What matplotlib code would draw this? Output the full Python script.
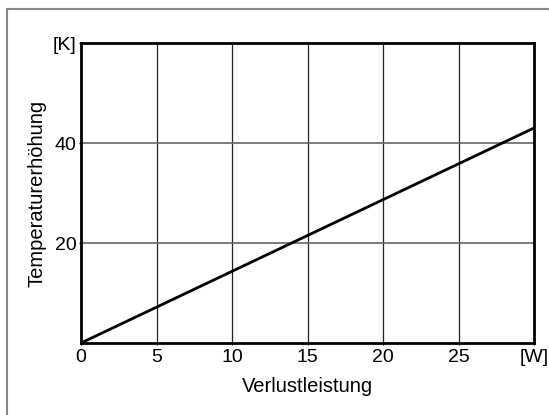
import matplotlib
matplotlib.use("Agg")
import matplotlib.pyplot as plt
from matplotlib.patches import Rectangle

plt.rcParams['font.family'] = ['Liberation Sans', 'DejaVu Sans']

power = [0, 30]
temp = [0, 43]
xticks = [0, 5, 10, 15, 20, 25, 30]
xticklabels = ['0', '5', '10', '15', '20', '25', '[W]']
yticks = [20, 40, 60]
yticklabels = ['20', '40', '[K]']

fig = plt.figure(figsize=(5.49, 4.15), dpi=100)
ax = fig.add_axes([81/549, 1 - 343/415, (534-81)/549, (343-43)/415])

fig.patches.append(Rectangle((7/549, -0.1), 1.2, (415-9)/415 + 0.1, transform=fig.transFigure,
                             fill=False, edgecolor='#888888', linewidth=1.5))

ax.plot(power, temp, color='black', linewidth=2, zorder=3)
ax.set_xlim(0, 30)
ax.set_ylim(0, 60)

for x in [5, 10, 15, 20, 25]:
    ax.axvline(x, color='#222222', linewidth=0.9, zorder=1)
for y in [20, 40]:
    ax.axhline(y, color='#666666', linewidth=1.2, zorder=1)

ax.set_xticks(xticks)
ax.set_xticklabels(xticklabels, fontsize=14)
ax.set_yticks(yticks)
ax.set_yticklabels(yticklabels, fontsize=14)
ax.tick_params(axis='x', length=1.5, width=0.8, pad=3)
ax.tick_params(axis='y', length=1.5, width=0.8, pad=1.5)
for s in ax.spines.values():
    s.set_linewidth(2)

ax.set_xlabel('Verlustleistung', fontsize=14.5, labelpad=8)
ax.set_ylabel('Temperaturerhöhung', fontsize=14.5, labelpad=5)

fig.savefig('out.png', dpi=100)
